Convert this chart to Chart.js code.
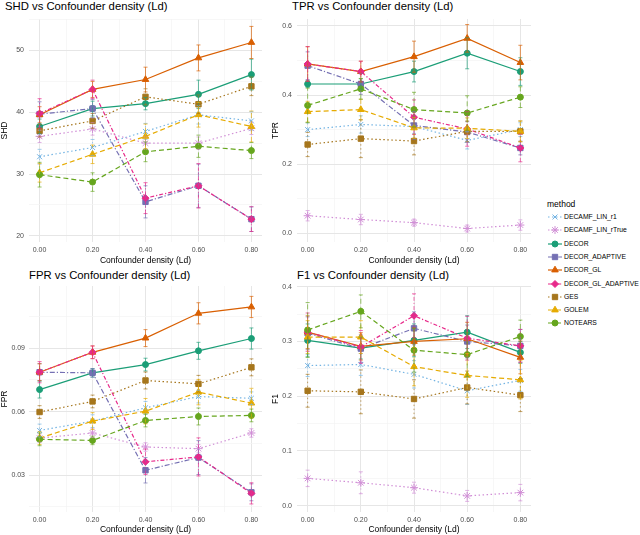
<!DOCTYPE html>
<html>
<head>
<meta charset="utf-8">
<script src="https://cdn.jsdelivr.net/npm/chart.js@4.4.1/dist/chart.umd.min.js"></script>
<style>
  body { margin: 0; width: 640px; height: 535px; background: #fff; position: relative; overflow: hidden;
         font-family: "Liberation Sans", Arial, sans-serif; }
  canvas.panel { position: absolute; }
  .ptitle { position: absolute; font-size: 11.3px; line-height: 13px; color: #000; white-space: nowrap; }
  .lg { position: absolute; font-size: 6.8px; color: #000; white-space: nowrap; line-height: 10px; }
  .lg canvas { position: absolute; left: 0; top: 0; }
  .lg span { position: absolute; left: 17px; top: 0; }
  #lgtitle { position: absolute; left: 547px; top: 199px; font-size: 8.5px; line-height: 10px; }
</style>
</head>
<body>
<div class="ptitle" style="left:5px;top:0px">SHD vs Confounder density (Ld)</div>
<div class="ptitle" style="left:292px;top:0px">TPR vs Confounder density (Ld)</div>
<div class="ptitle" style="left:29px;top:269px">FPR vs Confounder density (Ld)</div>
<div class="ptitle" style="left:297px;top:269px">F1 vs Confounder density (Ld)</div>

<canvas id="shd" class="panel" width="267" height="252" style="left:0px;top:14px"></canvas>
<canvas id="tpr" class="panel" width="268" height="252" style="left:268px;top:14px"></canvas>
<canvas id="fpr" class="panel" width="267" height="254" style="left:0px;top:281px"></canvas>
<canvas id="f1" class="panel" width="268" height="254" style="left:268px;top:281px"></canvas>

<div id="lgtitle">method</div>
<div id="legend"></div>

<script>
const densities = [0, 0.2, 0.4, 0.6, 0.8];
const xTicks = [0, 0.2, 0.4, 0.6, 0.8];
const xMinor = [0.1, 0.3, 0.5, 0.7];

const methods = ['DECAMF_LIN_r1', 'DECAMF_LIN_rTrue', 'DECOR', 'DECOR_ADAPTIVE', 'DECOR_GL',
                 'DECOR_GL_ADAPTIVE', 'GES', 'GOLEM', 'NOTEARS'];

// rows follow the order of methods
const shdMean = [
  [32.8, 34.3, 36.9, 39.6, 38.6],
  [36.1, 37.3, 35.0, 35.0, 37.4],
  [37.7, 40.6, 41.4, 42.9, 46.1],
  [39.7, 40.6, 25.5, 28.1, 22.7],
  [39.6, 43.7, 45.3, 48.8, 51.3],
  [39.8, 43.7, 26.1, 28.1, 22.7],
  [37.0, 38.6, 42.5, 41.3, 44.2],
  [30.2, 33.2, 36.1, 39.6, 37.7],
  [29.9, 28.7, 33.6, 34.5, 33.8]
];
const shdErr = [
  [1.2, 1.3, 1.3, 1.5, 1.5],
  [1.0, 1.0, 1.0, 1.0, 1.0],
  [1.2, 1.2, 1.0, 2.3, 2.5],
  [2.0, 1.5, 2.6, 3.5, 2.0],
  [1.3, 1.3, 2.0, 2.1, 2.6],
  [2.4, 1.5, 2.5, 3.6, 2.0],
  [1.0, 1.2, 1.3, 1.5, 1.5],
  [1.5, 1.5, 2.0, 2.0, 2.5],
  [2.0, 1.5, 1.6, 1.8, 1.3]
];
const tprMean = [
  [0.300, 0.315, 0.309, 0.269, 0.300],
  [0.051, 0.040, 0.031, 0.014, 0.024],
  [0.432, 0.432, 0.468, 0.521, 0.468],
  [0.485, 0.432, 0.312, 0.293, 0.247],
  [0.490, 0.468, 0.511, 0.564, 0.494],
  [0.490, 0.468, 0.336, 0.302, 0.247],
  [0.257, 0.274, 0.267, 0.295, 0.295],
  [0.352, 0.358, 0.305, 0.304, 0.295],
  [0.370, 0.418, 0.358, 0.348, 0.394]
];
const tprErr = [
  [0.020, 0.025, 0.020, 0.025, 0.020],
  [0.015, 0.015, 0.010, 0.010, 0.015],
  [0.010, 0.015, 0.030, 0.045, 0.040],
  [0.040, 0.030, 0.040, 0.030, 0.020],
  [0.050, 0.030, 0.045, 0.040, 0.050],
  [0.050, 0.030, 0.050, 0.050, 0.040],
  [0.035, 0.055, 0.040, 0.030, 0.030],
  [0.030, 0.030, 0.030, 0.030, 0.030],
  [0.050, 0.030, 0.050, 0.050, 0.030]
];
const fprMean = [
  [0.0511, 0.0555, 0.0618, 0.0671, 0.0663],
  [0.0475, 0.0499, 0.0433, 0.0425, 0.0499],
  [0.0704, 0.0783, 0.0822, 0.0887, 0.0945],
  [0.0786, 0.0783, 0.0323, 0.0383, 0.0219],
  [0.0786, 0.0880, 0.0947, 0.1064, 0.1094],
  [0.0786, 0.0880, 0.0363, 0.0386, 0.0214],
  [0.0598, 0.0648, 0.0747, 0.0731, 0.0809],
  [0.0475, 0.0555, 0.0602, 0.0692, 0.0640],
  [0.0469, 0.0464, 0.0558, 0.0577, 0.0582]
];
const fprErr = [
  [0.003, 0.003, 0.003, 0.003, 0.003],
  [0.002, 0.002, 0.002, 0.002, 0.002],
  [0.004, 0.002, 0.003, 0.004, 0.005],
  [0.004, 0.002, 0.006, 0.008, 0.004],
  [0.004, 0.003, 0.004, 0.005, 0.005],
  [0.005, 0.003, 0.006, 0.009, 0.005],
  [0.003, 0.003, 0.004, 0.004, 0.004],
  [0.003, 0.004, 0.006, 0.006, 0.007],
  [0.003, 0.002, 0.003, 0.004, 0.003]
];
const f1Mean = [
  [0.256, 0.258, 0.240, 0.210, 0.229],
  [0.050, 0.042, 0.033, 0.018, 0.024],
  [0.302, 0.288, 0.302, 0.317, 0.280],
  [0.315, 0.287, 0.324, 0.300, 0.292],
  [0.317, 0.291, 0.300, 0.305, 0.271],
  [0.317, 0.290, 0.347, 0.306, 0.292],
  [0.210, 0.208, 0.195, 0.216, 0.202],
  [0.308, 0.308, 0.254, 0.238, 0.230],
  [0.321, 0.355, 0.284, 0.276, 0.309]
];
const f1Err = [
  [0.020, 0.020, 0.025, 0.025, 0.020],
  [0.015, 0.020, 0.010, 0.010, 0.015],
  [0.030, 0.020, 0.030, 0.030, 0.020],
  [0.030, 0.025, 0.030, 0.030, 0.030],
  [0.030, 0.025, 0.025, 0.030, 0.030],
  [0.035, 0.030, 0.040, 0.040, 0.030],
  [0.030, 0.040, 0.035, 0.030, 0.030],
  [0.030, 0.030, 0.035, 0.040, 0.035],
  [0.050, 0.030, 0.040, 0.040, 0.030]
];

const shdTicks = [20, 30, 40, 50];
const shdTickLabels = ['20', '30', '40', '50'];
const shdMinor = [25, 35, 45, 55];
const tprTicks = [0, 0.2, 0.4, 0.6];
const tprTickLabels = ['0.0', '0.2', '0.4', '0.6'];
const tprMinor = [0.1, 0.3, 0.5];
const fprTicks = [0.03, 0.06, 0.09];
const fprTickLabels = ['0.03', '0.06', '0.09'];
const fprMinor = [0.015, 0.045, 0.075, 0.105];
const f1Ticks = [0, 0.1, 0.2, 0.3, 0.4];
const f1TickLabels = ['0.0', '0.1', '0.2', '0.3', '0.4'];
const f1Minor = [0.05, 0.15, 0.25, 0.35];

const colors = ['#74b4e3', '#d18fd6', '#1b9e77', '#7570b3', '#d95f02', '#e7298a', '#a6761d', '#e6ab02', '#66a61e'];
const dashes = [[1.5, 2.5], [1.5, 2.5], [], [5, 2, 1.2, 2], [], [4, 2, 1.2, 2], [1.5, 2.5], [5, 3], [5, 3]];
const shapes = ['crossRot', 'star', 'circle', 'rect', 'triangle', 'rectRot', 'rect', 'triangle', 'circle'];
const radii = [3.5, 4, 3, 3.8, 3.8, 3.5, 3.8, 3.8, 3];

const majorGrid = '#e6e6e6';
const minorGrid = '#f3f3f3';

const errorBars = {
  id: 'errorBars',
  afterDatasetsDraw(chart) {
    const { ctx, scales: { x, y } } = chart;
    chart.data.datasets.forEach(ds => {
      ctx.save();
      ctx.strokeStyle = ds.borderColor;
      ctx.globalAlpha = 0.75;
      ctx.lineWidth = 0.9;
      ds.data.forEach((p, j) => {
        const px = x.getPixelForValue(p.x);
        const lo = y.getPixelForValue(p.y - ds.errors[j]);
        const hi = y.getPixelForValue(p.y + ds.errors[j]);
        ctx.setLineDash(ds.borderDash);
        ctx.beginPath();
        ctx.moveTo(px, lo);
        ctx.lineTo(px, hi);
        ctx.stroke();
        ctx.setLineDash([]);
        ctx.beginPath();
        ctx.moveTo(px - 2, lo); ctx.lineTo(px + 2, lo);
        ctx.moveTo(px - 2, hi); ctx.lineTo(px + 2, hi);
        ctx.stroke();
      });
      ctx.restore();
    });
  }
};

function makeChart(id, p) {
  const yAll = p.ticks.concat(p.minor).sort((a, b) => a - b);
  const xAll = xTicks.concat(xMinor).sort((a, b) => a - b);
  return new Chart(document.getElementById(id), {
    type: 'line',
    data: {
      datasets: methods.map((m, i) => ({
        label: m,
        data: densities.map((d, j) => ({ x: d, y: p.mean[i][j] })),
        errors: p.err[i],
        borderColor: colors[i],
        backgroundColor: colors[i],
        borderWidth: 1.2,
        borderDash: dashes[i],
        pointStyle: shapes[i],
        pointRadius: radii[i],
        pointBorderWidth: 1,
        pointBackgroundColor: colors[i],
        pointBorderColor: colors[i],
        tension: 0,
        fill: false,
        order: methods.length - i
      }))
    },
    options: {
      responsive: false,
      maintainAspectRatio: false,
      animation: false,
      layout: { padding: { top: 4, right: 3, left: 0, bottom: 0 } },
      plugins: { legend: { display: false }, tooltip: { enabled: false } },
      scales: {
        x: {
          type: 'linear',
          min: -0.04,
          max: 0.84,
          afterBuildTicks: s => { s.ticks = xAll.map(v => ({ value: v })); },
          afterFit: s => { s.height = p.xh; s.paddingLeft = 0; s.paddingRight = 0; },
          ticks: {
            autoSkip: false, maxRotation: 0, padding: 3.5, color: '#4d4d4d',
            font: { size: 7, family: 'Liberation Sans' },
            callback: v => { const k = xTicks.indexOf(v); return k >= 0 ? xTicks[k].toFixed(2) : ''; }
          },
          grid: {
            drawTicks: false,
            color: c => xTicks.includes(c.tick.value) ? majorGrid : minorGrid,
            lineWidth: c => xTicks.includes(c.tick.value) ? 1 : 0.7
          },
          border: { display: false },
          title: {
            display: true, text: 'Confounder density (Ld)', color: '#000',
            font: { size: 8.5, family: 'Liberation Sans', lineHeight: 1 },
            padding: { top: 0, bottom: 1.5 }
          }
        },
        y: {
          min: p.min,
          max: p.max,
          afterBuildTicks: s => { s.ticks = yAll.map(v => ({ value: v })); },
          afterFit: s => { s.width = 29; s.paddingTop = 0; s.paddingBottom = 0; },
          ticks: {
            autoSkip: false, padding: p.tickPad, color: '#4d4d4d',
            font: { size: 7, family: 'Liberation Sans' },
            callback: v => { const k = p.ticks.indexOf(v); return k >= 0 ? p.labels[k] : ''; }
          },
          grid: {
            drawTicks: false,
            color: c => p.ticks.includes(c.tick.value) ? majorGrid : minorGrid,
            lineWidth: c => p.ticks.includes(c.tick.value) ? 1 : 0.7
          },
          border: { display: false },
          title: {
            display: true, text: p.title, color: '#000',
            font: { size: 8.5, family: 'Liberation Sans', lineHeight: 1 },
            padding: { top: p.titlePad, bottom: 0 }
          }
        }
      }
    },
    plugins: [errorBars]
  });
}

makeChart('shd', { title: 'SHD', mean: shdMean, err: shdErr, min: 19.0, max: 55.1,
  ticks: shdTicks, labels: shdTickLabels, minor: shdMinor, xh: 24, tickPad: 5, titlePad: 0.7 });
makeChart('tpr', { title: 'TPR', mean: tprMean, err: tprErr, min: -0.025, max: 0.62,
  ticks: tprTicks, labels: tprTickLabels, minor: tprMinor, xh: 24, tickPad: 5, titlePad: 3.2 });
makeChart('fpr', { title: 'FPR', mean: fprMean, err: fprErr, min: 0.0126, max: 0.1193,
  ticks: fprTicks, labels: fprTickLabels, minor: fprMinor, xh: 23, tickPad: 4, titlePad: 0.2 });
makeChart('f1', { title: 'F1', mean: f1Mean, err: f1Err, min: -0.0114, max: 0.4013,
  ticks: f1Ticks, labels: f1TickLabels, minor: f1Minor, xh: 23, tickPad: 5, titlePad: 3.2 });

// legend: line + marker key like ggplot
const legend = document.getElementById('legend');
const dpr = window.devicePixelRatio || 1;
methods.forEach((m, i) => {
  const row = document.createElement('div');
  row.className = 'lg';
  row.style.left = '547px';
  row.style.top = (212 + i * 13.3) + 'px';
  const cv = document.createElement('canvas');
  cv.width = 16 * dpr; cv.height = 10 * dpr;
  cv.style.width = '16px'; cv.style.height = '10px';
  const ctx = cv.getContext('2d');
  ctx.scale(dpr, dpr);
  ctx.strokeStyle = colors[i];
  ctx.fillStyle = colors[i];
  ctx.lineWidth = 1.2;
  ctx.setLineDash(dashes[i]);
  ctx.beginPath(); ctx.moveTo(1, 5); ctx.lineTo(15, 5); ctx.stroke();
  ctx.setLineDash([]);
  ctx.lineWidth = 1;
  if (Chart.helpers && Chart.helpers.drawPoint) {
    Chart.helpers.drawPoint(ctx, { pointStyle: shapes[i], radius: radii[i], rotation: 0, borderWidth: 1 }, 8, 5);
  } else {
    ctx.beginPath(); ctx.arc(8, 5, 3, 0, Math.PI * 2); ctx.fill();
  }
  const sp = document.createElement('span');
  sp.textContent = m;
  row.appendChild(cv);
  row.appendChild(sp);
  legend.appendChild(row);
});
</script>
</body>
</html>
